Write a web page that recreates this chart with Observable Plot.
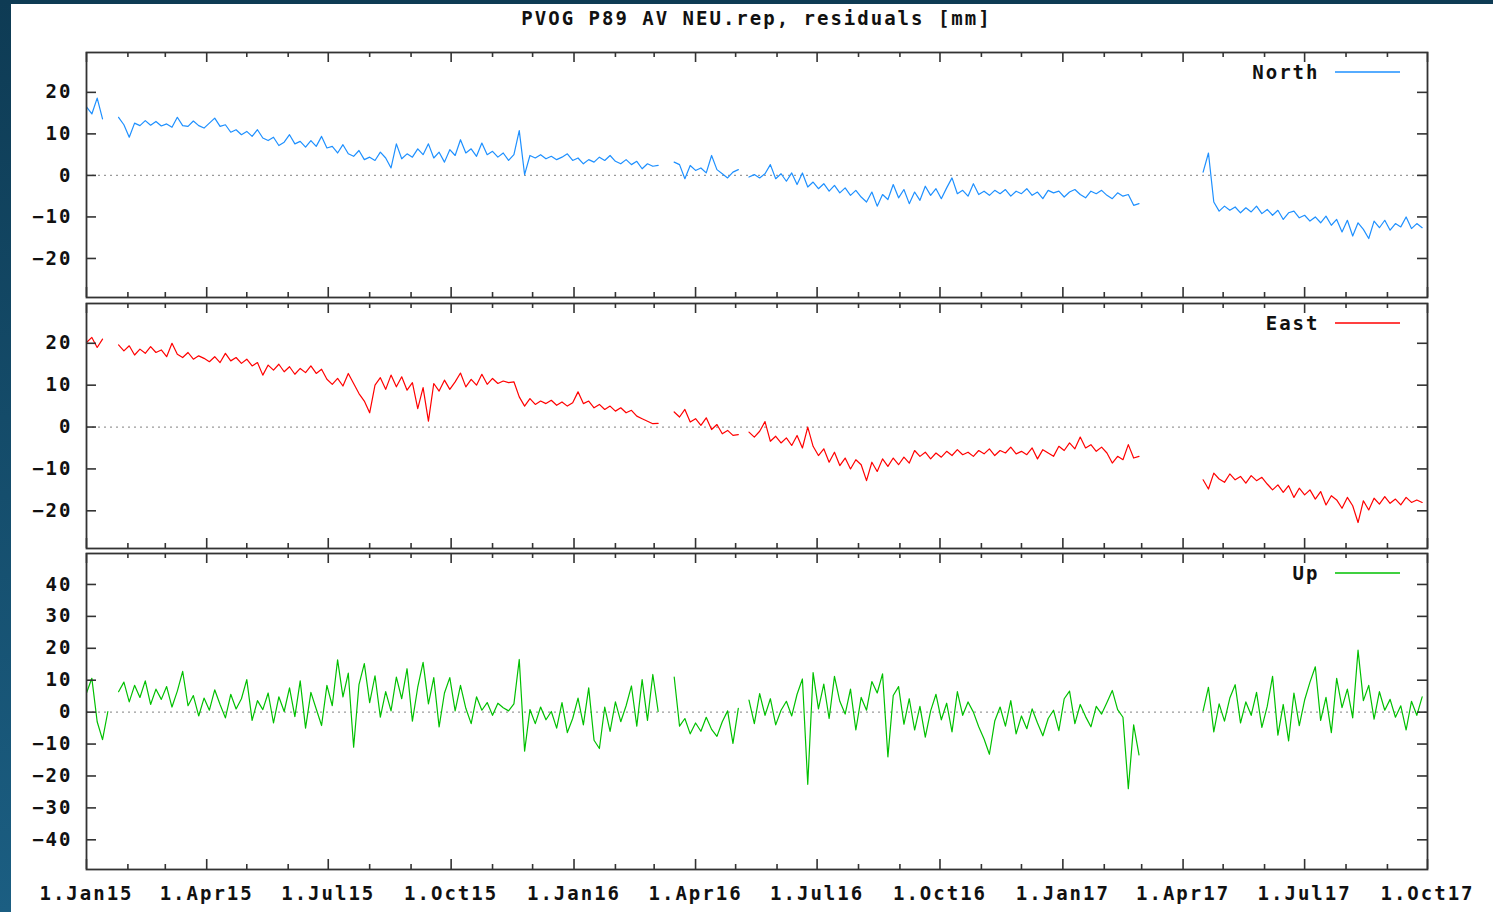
<!DOCTYPE html>
<html>
<head>
<meta charset="utf-8">
<script src="https://cdn.jsdelivr.net/npm/d3@7"></script>
<script src="https://cdn.jsdelivr.net/npm/@observablehq/plot@0.6"></script>
<style>
html, body { margin: 0; padding: 0; }
body { width: 1493px; height: 912px; overflow: hidden; position: relative;
  background: linear-gradient(#0e3b54, #1b5e82); font-family: "DejaVu Sans Mono", monospace; }
#page { position: absolute; left: 11px; top: 4px; right: 0; bottom: 0; background: #fff; }
#title { position: absolute; left: 86px; width: 1341px; top: 7px; text-align: center;
  font: bold 19px/22px "DejaVu Sans Mono", monospace; letter-spacing: 2px; color: #111; white-space: pre; }
.panel { position: absolute; left: 0; }
.panel svg { overflow: visible; }
</style>
</head>
<body>
<div id="page"></div>
<div id="title">PVOG P89 AV NEU.rep, residuals [mm]</div>
<div id="p1" class="panel" style="top:40px"></div>
<div id="p2" class="panel" style="top:302px"></div>
<div id="p3" class="panel" style="top:552px"></div>
<script>
// ---- data (one value every 4 days from 1 Jan 2015) ----
const seriesStart = "2015-01-01";
const stepDays = 4;

const north = [
16.5, 14.8, 18.6, 13.6, null, null, 14.0, 12.2, 9.2, 12.6,
12.0, 13.2, 12.1, 13.0, 11.9, 12.4, 11.6, 14.0, 12.0, 11.8,
13.1, 12.0, 11.4, 12.6, 13.8, 11.8, 12.2, 10.4, 11.0, 9.8,
10.6, 9.4, 11.0, 9.0, 8.4, 9.2, 7.2, 8.0, 9.8, 7.6,
8.2, 6.8, 8.4, 7.0, 9.4, 6.6, 7.0, 5.4, 7.4, 5.2,
4.6, 6.0, 3.8, 4.4, 3.6, 5.6, 4.2, 1.8, 7.6, 4.0,
5.2, 4.4, 6.4, 5.0, 7.6, 4.2, 5.6, 3.2, 6.2, 4.8,
8.6, 5.4, 6.4, 4.6, 7.8, 5.0, 5.8, 4.4, 5.4, 3.6,
5.0, 10.8, 0.2, 4.8, 4.2, 5.0, 4.0, 4.6, 3.8, 4.4,
5.2, 3.6, 4.2, 2.8, 3.8, 3.2, 4.4, 3.6, 4.8, 3.4,
2.8, 3.8, 2.6, 3.4, 1.6, 2.8, 2.2, 2.4, null, null,
3.2, 2.6, -0.8, 2.4, 1.2, 1.8, 0.6, 4.8, 1.4, 0.4,
-0.6, 0.8, 1.4, null, -0.4, 0.2, -0.6, 0.4, 2.6, -0.8,
0.4, -1.4, 0.6, -2.2, 0.6, -2.8, -1.6, -3.2, -2.0, -3.8,
-2.4, -4.2, -3.0, -4.8, -3.6, -5.2, -6.4, -4.0, -7.4, -4.6,
-5.8, -2.2, -5.4, -3.4, -6.8, -4.0, -6.0, -2.6, -4.8, -3.2,
-5.6, -3.0, -0.6, -4.4, -3.6, -5.0, -2.0, -4.6, -3.8, -4.8,
-3.6, -4.4, -3.4, -5.0, -3.8, -4.4, -3.2, -4.8, -4.0, -5.6,
-3.6, -4.2, -3.8, -5.2, -4.0, -3.4, -4.6, -5.4, -3.8, -4.4,
-3.6, -4.8, -5.6, -4.2, -5.0, -4.6, -7.2, -6.8, null, null,
null, null, null, null, null, null, null, null, null, 0.8,
5.4, -6.4, -8.6, -7.4, -8.4, -7.6, -9.0, -7.8, -8.8, -7.4,
-9.2, -8.2, -9.6, -8.4, -10.6, -9.0, -8.6, -10.2, -9.6, -11.0,
-10.0, -11.4, -9.8, -12.0, -10.6, -13.6, -10.8, -14.6, -11.4, -13.0,
-15.2, -11.0, -12.6, -10.8, -13.2, -11.6, -12.4, -10.0, -12.8, -11.6,
-12.6
];

const east = [
20.2, 21.4, 19.0, 21.0, null, null, 19.6, 18.2, 19.4, 17.2,
18.6, 17.6, 19.2, 17.8, 18.4, 16.8, 20.0, 17.4, 16.6, 17.8,
16.2, 17.0, 16.4, 15.6, 16.8, 15.4, 17.6, 15.8, 16.6, 15.2,
16.2, 14.6, 15.4, 12.4, 14.8, 13.6, 15.0, 13.2, 14.4, 12.6,
14.0, 13.0, 14.6, 12.8, 13.8, 11.4, 10.2, 11.6, 9.8, 12.8,
10.4, 8.0, 6.2, 3.4, 10.0, 11.8, 9.0, 12.4, 9.6, 12.0,
8.8, 10.6, 4.4, 9.4, 1.4, 10.4, 8.6, 11.2, 9.0, 10.8,
12.9, 9.6, 11.4, 10.0, 12.6, 10.2, 11.6, 10.4, 11.0, 10.6,
10.8, 7.2, 5.0, 6.8, 5.4, 6.2, 5.6, 6.4, 5.2, 6.0,
5.0, 5.8, 8.4, 5.6, 6.2, 4.6, 5.4, 4.2, 5.0, 3.8,
4.6, 3.4, 4.0, 2.6, 2.0, 1.4, 0.8, 0.9, null, null,
3.6, 2.4, 4.2, 1.2, 2.0, 0.4, 2.2, -0.6, 0.6, -1.6,
-0.8, -2.0, -1.8, null, -1.2, -2.4, -1.0, 1.3, -3.4, -2.2,
-3.8, -2.6, -4.4, -2.0, -5.0, 0.0, -4.6, -6.8, -5.2, -8.4,
-6.0, -9.2, -7.4, -10.0, -7.8, -9.0, -12.8, -8.4, -10.6, -7.6,
-9.4, -7.4, -9.0, -7.2, -8.6, -5.6, -7.0, -6.0, -7.6, -6.2,
-7.2, -5.8, -6.8, -5.4, -6.6, -6.0, -7.0, -5.6, -6.4, -5.2,
-6.8, -5.6, -6.2, -4.8, -6.4, -5.8, -6.6, -5.0, -7.6, -5.4,
-6.2, -7.0, -4.6, -5.6, -3.8, -5.2, -2.4, -5.0, -4.2, -5.8,
-4.8, -6.2, -8.6, -7.0, -7.8, -4.2, -7.4, -7.0, null, null,
null, null, null, null, null, null, null, null, null, -12.6,
-14.8, -11.0, -12.4, -13.2, -11.2, -12.6, -11.8, -13.4, -11.6, -12.8,
-12.0, -13.6, -15.0, -13.8, -15.6, -14.0, -16.8, -14.6, -16.2, -15.0,
-17.2, -15.4, -18.6, -16.4, -17.4, -19.4, -16.8, -18.8, -22.8, -17.6,
-19.8, -17.0, -18.4, -16.6, -18.2, -17.2, -18.6, -16.8, -18.0, -17.4,
-18.0
];

const up = [
6.0, 10.6, -3.0, -8.6, 0.2, null, 6.4, 9.4, 3.2, 8.4,
4.6, 9.8, 2.4, 7.2, 4.0, 8.0, 1.6, 6.6, 12.8, 2.0,
5.2, -1.2, 4.4, 0.6, 7.0, 2.4, -1.8, 5.6, 1.0, 4.2,
10.2, -2.6, 3.6, 0.8, 6.0, -3.4, 4.8, 0.2, 7.6, -1.4,
9.8, -5.0, 6.2, 1.0, -4.2, 8.4, 2.0, 16.4, 4.8, 12.2,
-11.0, 8.6, 15.2, 3.0, 11.4, -1.6, 6.4, 0.4, 11.0, 4.2,
13.6, -2.8, 7.8, 15.6, 2.6, 10.8, -4.6, 6.0, 10.8, 0.4,
8.4, 1.2, -3.6, 4.8, 0.6, 3.0, -1.0, 2.8, 1.4, 0.4,
2.6, 16.5, -12.2, 0.8, -3.6, 1.6, -2.4, 0.2, -5.0, 3.0,
-6.4, -2.0, 4.4, -4.0, 7.6, -8.8, -11.4, 1.6, -6.0, 3.2,
-3.0, 2.0, 8.2, -4.4, 10.2, -2.6, 11.8, 0.2, null, null,
11.0, -4.4, -2.0, -6.8, -3.4, -6.0, -1.6, -5.4, -7.6, -3.0,
0.4, -9.8, 1.2, null, 3.8, -3.6, 5.8, -1.0, 4.2, -4.0,
0.6, 3.4, -1.2, 5.6, 10.4, -22.6, 12.4, 1.0, 8.8, -2.0,
11.2, 3.4, -0.6, 7.2, -5.6, 4.6, 0.6, 9.6, 6.0, 12.0,
-14.0, 5.2, 8.0, -3.8, 4.2, -5.6, 1.8, -7.8, 0.4, 5.6,
-2.4, 2.8, -6.2, 6.4, -1.0, 3.2, 0.0, -4.6, -8.4, -13.2,
-2.8, 1.6, -4.4, 3.6, -6.8, -1.2, -5.2, 1.0, -3.4, -7.4,
-2.0, 0.6, -5.8, 4.2, 6.6, -3.6, 2.4, -1.4, -4.6, 1.8,
-0.6, 3.0, 6.8, 0.8, -1.6, -24.0, -4.0, -13.4, null, null,
null, null, null, null, null, null, null, null, null, 0.4,
7.8, -6.2, 2.6, -2.8, 4.4, 8.6, -3.4, 3.2, -1.0, 6.2,
-4.8, 1.8, 11.2, -7.2, 2.4, -9.0, 6.0, -4.2, 3.8, 9.4,
14.2, -2.6, 4.6, -6.4, 10.6, 1.4, 7.2, -1.8, 19.4, 3.6,
8.4, -2.2, 6.4, 0.6, 4.0, -1.6, 2.0, -5.6, 3.4, -1.0,
4.8
];

const xDomain = ["2015-01-01", "2017-10-01"];
const xTickDates = ["2015-01-01","2015-04-01","2015-07-01","2015-10-01","2016-01-01","2016-04-01",
  "2016-07-01","2016-10-01","2017-01-01","2017-04-01","2017-07-01","2017-10-01"];
const xTickLabels = ["1.Jan15","1.Apr15","1.Jul15","1.Oct15","1.Jan16","1.Apr16",
  "1.Jul16","1.Oct16","1.Jan17","1.Apr17","1.Jul17","1.Oct17"];
const yTicksNE = [-20, -10, 0, 10, 20];
const yTicksUp = [-40, -30, -20, -10, 0, 10, 20, 30, 40];
const seriesNames = ["North", "East", "Up"];
const seriesColors = ["#1e90ff", "#ff0000", "#00c000"];

// ---- build ----
const t0 = new Date(seriesStart + "T00:00:00Z");
const toRows = vals => vals.map((v, i) => ({date: d3.utcDay.offset(t0, i * stepDays), value: v}));
const majorDates = xTickDates.map(s => new Date(s + "T00:00:00Z"));
const majorSet = new Set(majorDates.map(d => +d));
const labelByTime = new Map(majorDates.map((d, i) => [+d, xTickLabels[i]]));
const allMonths = d3.utcMonths(majorDates[0], d3.utcDay.offset(majorDates[majorDates.length - 1], 1));
const minorDates = allMonths.filter(d => !majorSet.has(+d));
const domain = xDomain.map(s => new Date(s + "T00:00:00Z"));
const fmtNum = d => d < 0 ? "\u2212" + (-d) : String(d);

const W = 1493, ML = 86, MR = 66;
function makePanel(cfg) {
  const frameH = cfg.height - cfg.mt - cfg.mb;
  const frameW = W - ML - MR;
  const tk = {stroke: "#333", strokeWidth: 1.6};
  const marks = [
    Plot.ruleY([0], {stroke: "#9a9a9a", strokeDasharray: "2,4", strokeWidth: 1.3}),
    Plot.line(cfg.data, {x: "date", y: "value", stroke: cfg.color, strokeWidth: 1.2}),
    Plot.ruleX(majorDates, {x: d => d, insetBottom: frameH - 10, ...tk}),
    Plot.ruleX(majorDates, {x: d => d, insetTop: frameH - 10, ...tk}),
    Plot.ruleX(minorDates, {x: d => d, insetBottom: frameH - 5, ...tk}),
    Plot.ruleX(minorDates, {x: d => d, insetTop: frameH - 5, ...tk}),
    Plot.ruleY(cfg.ticks, {y: d => d, insetRight: frameW - 10, ...tk}),
    Plot.ruleY(cfg.ticks, {y: d => d, insetLeft: frameW - 10, ...tk}),
    Plot.frame({stroke: "#333", strokeWidth: 1.8}),
    Plot.axisY(cfg.ticks, {tickSize: 0, tickPadding: 14, tickFormat: fmtNum, label: null, fill: "#111"}),
    Plot.text([cfg.name], {frameAnchor: "top-right", dx: -108, dy: 20, textAnchor: "end", lineAnchor: "middle", fill: "#111"})
  ];
  if (cfg.showX) {
    marks.push(Plot.axisX(majorDates, {tickSize: 0, tickPadding: 17, tickFormat: d => labelByTime.get(+d), label: null, fill: "#111"}));
  }
  const svg = Plot.plot({
    width: W, height: cfg.height,
    marginLeft: ML, marginRight: MR, marginTop: cfg.mt, marginBottom: cfg.mb,
    x: {type: "utc", domain, axis: cfg.showX ? undefined : null},
    y: {domain: cfg.domain, axis: null},
    style: {background: "transparent", fontFamily: "'DejaVu Sans Mono', monospace", fontSize: "19px",
      fontWeight: "bold", letterSpacing: "2px", color: "#111", overflow: "visible"},
    marks
  });
  const ly = cfg.mt + 20;
  d3.select(svg).append("line").attr("x1", 1335).attr("x2", 1400).attr("y1", ly).attr("y2", ly)
    .attr("stroke", cfg.color).attr("stroke-width", 1.3);
  document.getElementById(cfg.id).appendChild(svg);
}

makePanel({id: "p1", data: toRows(north), name: seriesNames[0], color: seriesColors[0],
  domain: [-29.4, 29.6], ticks: yTicksNE, height: 262, mt: 12, mb: 5, showX: false});
makePanel({id: "p2", data: toRows(east), name: seriesNames[1], color: seriesColors[1],
  domain: [-29.0, 29.5], ticks: yTicksNE, height: 250, mt: 1, mb: 4, showX: false});
makePanel({id: "p3", data: toRows(up), name: seriesNames[2], color: seriesColors[2],
  domain: [-49.3, 49.7], ticks: yTicksUp, height: 360, mt: 1, mb: 43, showX: true});
</script>
</body>
</html>
